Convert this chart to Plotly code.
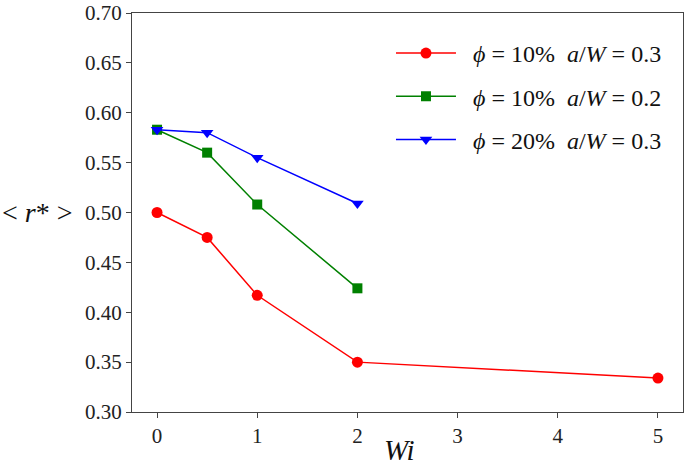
import plotly.graph_objects as go

wi_red = [0, 0.5, 1, 2, 5]
r_red = [0.500, 0.475, 0.417, 0.350, 0.334]
wi_green = [0, 0.5, 1, 2]
r_green = [0.583, 0.560, 0.508, 0.424]
wi_blue = [0, 0.5, 1, 2]
r_blue = [0.583, 0.580, 0.555, 0.509]

names = [
    "&nbsp;&nbsp;<i>ϕ</i> = 10%  <i>a</i>/<i>W</i> = 0.3",
    "&nbsp;&nbsp;<i>ϕ</i> = 10%  <i>a</i>/<i>W</i> = 0.2",
    "&nbsp;&nbsp;<i>ϕ</i> = 20%  <i>a</i>/<i>W</i> = 0.3",
]
x_ticks = [0, 1, 2, 3, 4, 5]
y_ticks = [0.30, 0.35, 0.40, 0.45, 0.50, 0.55, 0.60, 0.65, 0.70]

FONT = "Liberation Serif"

fig = go.Figure()
series = [
    (wi_red, r_red, "red", "circle", 11),
    (wi_green, r_green, "green", "square", 10),
    (wi_blue, r_blue, "blue", "triangle-down", 11),
]
for i, (x, y, c, sym, sz) in enumerate(series):
    fig.add_trace(go.Scatter(
        x=x, y=y, mode="lines+markers", name=names[i],
        legendgroup=f"g{i}",
        line=dict(color=c, width=1.5),
        marker=dict(color=c, symbol=sym, size=sz, line=dict(width=0)),
    ))

fig.update_layout(
    width=685, height=471,
    margin=dict(l=132, r=2, t=13, b=59, autoexpand=False),
    paper_bgcolor="white", plot_bgcolor="white",
    font=dict(family=FONT, color="#222"),
    showlegend=True,
    legend=dict(
        x=0.47, y=0.955, xanchor="left", yanchor="top",
        font=dict(size=24, family=FONT, color="#111"),
        bgcolor="rgba(255,255,255,0)",
        traceorder="grouped", tracegroupgap=9,
        itemwidth=60,
    ),
    annotations=[
        dict(text="<i>Wi</i>", xref="paper", yref="paper", x=0.486, y=-0.05,
             xanchor="center", yanchor="top", showarrow=False,
             font=dict(size=29, family=FONT, color="#111")),
        dict(text="&lt; <i>r</i>* &gt;", xref="paper", yref="paper", x=-0.103, y=0.5,
             xanchor="right", yanchor="middle", showarrow=False,
             font=dict(size=28, family=FONT, color="#111")),
    ],
)
fig.update_xaxes(
    range=[-0.25, 5.25], tickvals=x_ticks, ticktext=[str(v) for v in x_ticks],
    ticks="outside", ticklen=5, tickcolor="#444", tickwidth=1,
    showline=True, linecolor="#444", linewidth=1, mirror=True,
    showgrid=False, zeroline=False, automargin=False,
    tickfont=dict(size=21, family=FONT, color="#222"),
)
fig.update_yaxes(
    range=[0.30, 0.70], tickvals=y_ticks, ticktext=[f"{v:.2f}" for v in y_ticks],
    ticks="outside", ticklen=5, tickcolor="#444", tickwidth=1,
    showline=True, linecolor="#444", linewidth=1, mirror=True,
    showgrid=False, zeroline=False, automargin=False,
    tickfont=dict(size=21, family=FONT, color="#222"),
)
fig.write_html(
    "out.html",
    config={"responsive": False, "displayModeBar": False},
    post_script="document.body.style.margin='0px';document.body.style.overflow='hidden';",
)
